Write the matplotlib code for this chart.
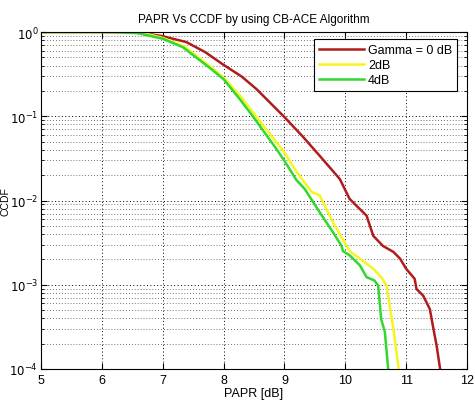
import numpy as np
import matplotlib
matplotlib.use("Agg")
import matplotlib.pyplot as plt
from matplotlib.ticker import LogLocator, FixedLocator, NullFormatter

plt.rcParams['font.family'] = ['Liberation Sans', 'DejaVu Sans']

# PAPR [dB] and log10(CCDF)
papr_0db = [5.0, 6.0, 6.6, 7.0, 7.39, 7.7, 8.0, 8.3, 8.54, 9.0, 9.3, 9.58, 9.91, 10.07, 10.18, 10.35,
            10.46, 10.62, 10.79, 10.9, 11.0, 11.14, 11.17, 11.28, 11.39, 11.44, 11.5, 11.55, 11.58]
logccdf_0db = [0.0, 0.0, -0.003, -0.05, -0.12, -0.24, -0.39, -0.53, -0.677, -1.01, -1.24, -1.47, -1.745, -1.98,
               -2.06, -2.18, -2.42, -2.54, -2.61, -2.69, -2.81, -2.93, -3.05, -3.13, -3.29, -3.49, -3.72, -3.96, -4.1]

papr_2db = [5.0, 6.0, 6.4, 6.7, 7.0, 7.35, 7.8, 8.0, 8.3, 8.5, 9.0, 9.2, 9.45, 9.58, 9.8, 10.02, 10.07,
            10.24, 10.46, 10.59, 10.68, 10.73, 10.79, 10.87, 10.89]
logccdf_2db = [0.0, 0.0, -0.003, -0.015, -0.07, -0.17, -0.42, -0.54, -0.78, -0.97, -1.43, -1.66, -1.9, -1.94,
               -2.26, -2.54, -2.6, -2.69, -2.81, -2.91, -3.01, -3.25, -3.52, -3.96, -4.1]

papr_4db = [5.0, 6.0, 6.3, 6.6, 7.0, 7.33, 7.78, 8.0, 8.27, 8.48, 8.87, 9.0, 9.2, 9.33, 9.58, 9.8, 9.94,
            9.96, 10.07, 10.24, 10.35, 10.48, 10.54, 10.57, 10.59, 10.65, 10.7, 10.72]
logccdf_4db = [0.0, 0.0, -0.003, -0.015, -0.08, -0.18, -0.43, -0.56, -0.8, -1.0, -1.39, -1.53, -1.76, -1.86,
               -2.14, -2.38, -2.54, -2.6, -2.65, -2.77, -2.91, -2.95, -3.01, -3.25, -3.41, -3.56, -3.96, -4.1]

labels = ['Gamma = 0 dB', '2dB', '4dB']
colors = ['#b01c1c', '#f5f520', '#30d830']
xticks = [5, 6, 7, 8, 9, 10, 11, 12]

fig = plt.figure(figsize=(4.75, 4.06), dpi=100)
ax = fig.add_axes([41/475, 1-370/406, 426/475, 337/406])

for x, ly, lab, c in zip([papr_0db, papr_2db, papr_4db],
                          [logccdf_0db, logccdf_2db, logccdf_4db], labels, colors):
    ax.semilogy(x, 10**np.array(ly), color=c, lw=1.8, label=lab)

ax.set_xlim(5, 12)
ax.set_ylim(1e-4, 1)
ax.set_xticks(xticks)
ax.set_xticklabels([str(t) for t in xticks])
ax.yaxis.set_major_locator(FixedLocator([1e-4, 1e-3, 1e-2, 1e-1, 1]))
ax.yaxis.set_minor_locator(LogLocator(base=10, subs=np.arange(2, 10)))
ax.yaxis.set_minor_formatter(NullFormatter())
ax.set_yticklabels([r'$10^{-4}$', r'$10^{-3}$', r'$10^{-2}$', r'$10^{-1}$', r'$10^{0}$'])

ax.grid(True, which='major', axis='both', linestyle=(0, (1, 2.5)), color='black', lw=0.7)
ax.grid(True, which='minor', axis='y', linestyle=(0, (1, 2.5)), color='#444444', lw=0.6)
ax.tick_params(which='both', direction='in', top=True, right=True, labelsize=9)
ax.tick_params(axis='y', which='major', pad=2, labelsize=8.5)
ax.tick_params(which='major', length=4)
ax.tick_params(which='minor', length=2)
for s in ax.spines.values():
    s.set_linewidth(0.8)

ax.set_title('PAPR Vs CCDF by using CB-ACE Algorithm', fontsize=8.5, pad=7)
ax.set_xlabel('PAPR [dB]', fontsize=9, labelpad=1)
ax.set_ylabel('CCDF', fontsize=7.5)
ax.yaxis.set_label_coords(-0.071, 0.5)

leg = ax.legend(loc='upper right', bbox_to_anchor=(0.977, 0.979), fontsize=9,
                fancybox=False, edgecolor='black', framealpha=1, handlelength=3.6,
                borderpad=0.4, labelspacing=0.25, handletextpad=0.3, borderaxespad=0)
leg.get_frame().set_linewidth(0.8)

fig.savefig('out.png', dpi=100)
